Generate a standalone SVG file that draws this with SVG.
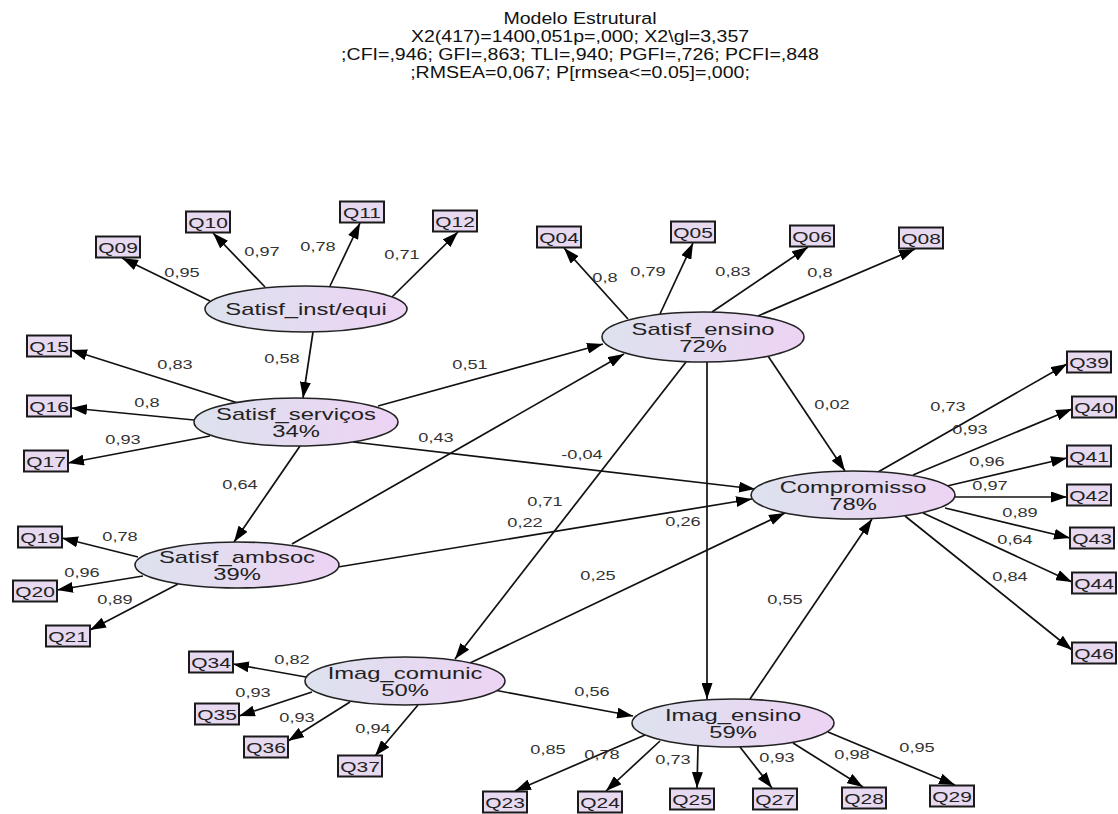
<svg xmlns="http://www.w3.org/2000/svg" width="1118" height="814" viewBox="0 0 1118 814">
<defs>
<linearGradient id="eg" x1="0" y1="0" x2="1" y2="0">
<stop offset="0" stop-color="#dde2ee"/>
<stop offset="1" stop-color="#edd3f4"/>
</linearGradient>
<marker id="ah" markerUnits="userSpaceOnUse" markerWidth="17" markerHeight="11" refX="16" refY="5.5" orient="auto">
<path d="M0,0 L16,5.5 L0,11 z" fill="#000"/>
</marker>
</defs>
<style>
text{font-family:"Liberation Sans",Arial,sans-serif;text-anchor:middle}
.title{font-size:17px;fill:#111}
.lab{font-size:13px;fill:#333}
.lv{font-size:17px;fill:#222}
.box rect{fill:#e7d9f0;stroke:#1a1a1a;stroke-width:2}
.box text{font-size:15px;fill:#222}
.lat ellipse{fill:url(#eg);stroke:#222;stroke-width:1.6}
#conn line{stroke:#111;stroke-width:1.7;marker-end:url(#ah)}
</style>
<rect width="1118" height="814" fill="#fff"/>
<g id="title" class="title">
<text transform="matrix(1.15 0 0 1 580 24)">Modelo Estrutural</text>
<text transform="matrix(1.15 0 0 1 580 42)">X2(417)=1400,051p=,000; X2\gl=3,357</text>
<text transform="matrix(1.15 0 0 1 580 60)">;CFI=,946; GFI=,863; TLI=,940; PGFI=,726; PCFI=,848</text>
<text transform="matrix(1.15 0 0 1 580 78)">;RMSEA=0,067; P[rmsea&lt;=0.05]=,000;</text>
</g>
<g id="conn">
<line x1="210" y1="301" x2="122" y2="258"/>
<line x1="265" y1="287" x2="213" y2="233"/>
<line x1="330" y1="286" x2="360" y2="223"/>
<line x1="392" y1="297" x2="458" y2="232"/>
<line x1="628" y1="319" x2="564" y2="248"/>
<line x1="660" y1="314" x2="693" y2="243"/>
<line x1="712" y1="312" x2="808" y2="247"/>
<line x1="758" y1="316" x2="915" y2="249"/>
<line x1="238" y1="403" x2="71" y2="350"/>
<line x1="194" y1="420" x2="71" y2="408"/>
<line x1="210" y1="436" x2="68" y2="463"/>
<line x1="138" y1="557" x2="62" y2="538"/>
<line x1="143" y1="576" x2="57" y2="590"/>
<line x1="178" y1="584" x2="90" y2="630"/>
<line x1="306" y1="677" x2="233" y2="664"/>
<line x1="312" y1="692" x2="239" y2="716"/>
<line x1="350" y1="702" x2="288" y2="741"/>
<line x1="418" y1="705" x2="375" y2="756"/>
<line x1="645" y1="735" x2="515" y2="791"/>
<line x1="660" y1="741" x2="606" y2="791"/>
<line x1="698" y1="746" x2="697" y2="788"/>
<line x1="740" y1="747" x2="772" y2="788"/>
<line x1="793" y1="743" x2="863" y2="787"/>
<line x1="828" y1="732" x2="955" y2="785"/>
<line x1="878" y1="472" x2="1067" y2="364"/>
<line x1="913" y1="475" x2="1072" y2="409"/>
<line x1="947" y1="486" x2="1067" y2="458"/>
<line x1="955" y1="497" x2="1067" y2="497"/>
<line x1="945" y1="508" x2="1070" y2="538"/>
<line x1="923" y1="513" x2="1072" y2="582"/>
<line x1="905" y1="516" x2="1072" y2="650"/>
<line x1="313" y1="332" x2="303" y2="398"/>
<line x1="378" y1="406" x2="603" y2="344"/>
<line x1="353" y1="442" x2="755" y2="489"/>
<line x1="300" y1="446" x2="234" y2="542"/>
<line x1="292" y1="544" x2="624" y2="354"/>
<line x1="338" y1="567" x2="752" y2="499"/>
<line x1="768" y1="356" x2="845" y2="471"/>
<line x1="686" y1="362" x2="455" y2="659"/>
<line x1="707" y1="362" x2="707" y2="699"/>
<line x1="494" y1="690" x2="633" y2="716"/>
<line x1="470" y1="663" x2="785" y2="513"/>
<line x1="750" y1="699" x2="872" y2="519"/>
</g>
<g id="labels" class="lab">
<text transform="matrix(1.4 0 0 1 182 277)">0,95</text>
<text transform="matrix(1.4 0 0 1 262 256)">0,97</text>
<text transform="matrix(1.4 0 0 1 318 251)">0,78</text>
<text transform="matrix(1.4 0 0 1 402 259)">0,71</text>
<text transform="matrix(1.4 0 0 1 605 282)">0,8</text>
<text transform="matrix(1.4 0 0 1 648 276)">0,79</text>
<text transform="matrix(1.4 0 0 1 733 276)">0,83</text>
<text transform="matrix(1.4 0 0 1 820 277)">0,8</text>
<text transform="matrix(1.4 0 0 1 175 369)">0,83</text>
<text transform="matrix(1.4 0 0 1 147 407)">0,8</text>
<text transform="matrix(1.4 0 0 1 123 444)">0,93</text>
<text transform="matrix(1.4 0 0 1 120 541)">0,78</text>
<text transform="matrix(1.4 0 0 1 82 577)">0,96</text>
<text transform="matrix(1.4 0 0 1 115 604)">0,89</text>
<text transform="matrix(1.4 0 0 1 292 664)">0,82</text>
<text transform="matrix(1.4 0 0 1 253 697)">0,93</text>
<text transform="matrix(1.4 0 0 1 297 722)">0,93</text>
<text transform="matrix(1.4 0 0 1 373 733)">0,94</text>
<text transform="matrix(1.4 0 0 1 548 754)">0,85</text>
<text transform="matrix(1.4 0 0 1 602 759)">0,78</text>
<text transform="matrix(1.4 0 0 1 673 764)">0,73</text>
<text transform="matrix(1.4 0 0 1 777 762)">0,93</text>
<text transform="matrix(1.4 0 0 1 852 759)">0,98</text>
<text transform="matrix(1.4 0 0 1 917 752)">0,95</text>
<text transform="matrix(1.4 0 0 1 948 411)">0,73</text>
<text transform="matrix(1.4 0 0 1 970 434)">0,93</text>
<text transform="matrix(1.4 0 0 1 987 466)">0,96</text>
<text transform="matrix(1.4 0 0 1 990 490)">0,97</text>
<text transform="matrix(1.4 0 0 1 1020 517)">0,89</text>
<text transform="matrix(1.4 0 0 1 1015 544)">0,64</text>
<text transform="matrix(1.4 0 0 1 1010 581)">0,84</text>
<text transform="matrix(1.4 0 0 1 282 363)">0,58</text>
<text transform="matrix(1.4 0 0 1 470 369)">0,51</text>
<text transform="matrix(1.4 0 0 1 582 459)">-0,04</text>
<text transform="matrix(1.4 0 0 1 240 489)">0,64</text>
<text transform="matrix(1.4 0 0 1 436 442)">0,43</text>
<text transform="matrix(1.4 0 0 1 525 527)">0,22</text>
<text transform="matrix(1.4 0 0 1 832 409)">0,02</text>
<text transform="matrix(1.4 0 0 1 545 506)">0,71</text>
<text transform="matrix(1.4 0 0 1 683 526)">0,26</text>
<text transform="matrix(1.4 0 0 1 592 696)">0,56</text>
<text transform="matrix(1.4 0 0 1 598 580)">0,25</text>
<text transform="matrix(1.4 0 0 1 785 604)">0,55</text>
</g>
<g id="n_inst" class="lat"><ellipse cx="306" cy="309" rx="101" ry="23"/><text class="lv" transform="matrix(1.4 0 0 1 306 315)">Satisf_inst/equi</text></g>
<g id="n_ensino" class="lat"><ellipse cx="703" cy="337" rx="101" ry="25"/><text class="lv" transform="matrix(1.4 0 0 1 703 335)">Satisf_ensino</text><text class="lv" transform="matrix(1.4 0 0 1 703 352)">72%</text></g>
<g id="n_serv" class="lat"><ellipse cx="296" cy="422" rx="102" ry="24"/><text class="lv" transform="matrix(1.4 0 0 1 296 420)">Satisf_serviços</text><text class="lv" transform="matrix(1.4 0 0 1 296 437)">34%</text></g>
<g id="n_comp" class="lat"><ellipse cx="853" cy="495" rx="102" ry="24"/><text class="lv" transform="matrix(1.4 0 0 1 853 493)">Compromisso</text><text class="lv" transform="matrix(1.4 0 0 1 853 510)">78%</text></g>
<g id="n_amb" class="lat"><ellipse cx="237" cy="565" rx="102" ry="23"/><text class="lv" transform="matrix(1.4 0 0 1 237 563)">Satisf_ambsoc</text><text class="lv" transform="matrix(1.4 0 0 1 237 580)">39%</text></g>
<g id="n_icom" class="lat"><ellipse cx="405" cy="681" rx="100" ry="24"/><text class="lv" transform="matrix(1.4 0 0 1 405 679)">Imag_comunic</text><text class="lv" transform="matrix(1.4 0 0 1 405 696)">50%</text></g>
<g id="n_iens" class="lat"><ellipse cx="733" cy="723" rx="101" ry="24"/><text class="lv" transform="matrix(1.4 0 0 1 733 721)">Imag_ensino</text><text class="lv" transform="matrix(1.4 0 0 1 733 738)">59%</text></g>
<g id="q09" class="box"><rect x="96" y="236.5" width="44" height="21"/><text transform="matrix(1.4 0 0 1 118 252.5)">Q09</text></g>
<g id="q10" class="box"><rect x="186" y="211.5" width="44" height="21"/><text transform="matrix(1.4 0 0 1 208 227.5)">Q10</text></g>
<g id="q11" class="box"><rect x="340" y="201.5" width="44" height="21"/><text transform="matrix(1.4 0 0 1 362 217.5)">Q11</text></g>
<g id="q12" class="box"><rect x="433" y="210.5" width="44" height="21"/><text transform="matrix(1.4 0 0 1 455 226.5)">Q12</text></g>
<g id="q04" class="box"><rect x="537" y="226.5" width="44" height="21"/><text transform="matrix(1.4 0 0 1 559 242.5)">Q04</text></g>
<g id="q05" class="box"><rect x="671" y="221.5" width="44" height="21"/><text transform="matrix(1.4 0 0 1 693 237.5)">Q05</text></g>
<g id="q06" class="box"><rect x="790" y="225.5" width="44" height="21"/><text transform="matrix(1.4 0 0 1 812 241.5)">Q06</text></g>
<g id="q08" class="box"><rect x="899" y="227.5" width="44" height="21"/><text transform="matrix(1.4 0 0 1 921 243.5)">Q08</text></g>
<g id="q15" class="box"><rect x="27" y="335.5" width="44" height="21"/><text transform="matrix(1.4 0 0 1 49 351.5)">Q15</text></g>
<g id="q16" class="box"><rect x="27" y="395.5" width="44" height="21"/><text transform="matrix(1.4 0 0 1 49 411.5)">Q16</text></g>
<g id="q17" class="box"><rect x="24" y="450.5" width="44" height="21"/><text transform="matrix(1.4 0 0 1 46 466.5)">Q17</text></g>
<g id="q19" class="box"><rect x="18" y="526.5" width="44" height="21"/><text transform="matrix(1.4 0 0 1 40 542.5)">Q19</text></g>
<g id="q20" class="box"><rect x="13" y="580.5" width="44" height="21"/><text transform="matrix(1.4 0 0 1 35 596.5)">Q20</text></g>
<g id="q21" class="box"><rect x="46" y="625.5" width="44" height="21"/><text transform="matrix(1.4 0 0 1 68 641.5)">Q21</text></g>
<g id="q34" class="box"><rect x="189" y="651.5" width="44" height="21"/><text transform="matrix(1.4 0 0 1 211 667.5)">Q34</text></g>
<g id="q35" class="box"><rect x="195" y="703.5" width="44" height="21"/><text transform="matrix(1.4 0 0 1 217 719.5)">Q35</text></g>
<g id="q36" class="box"><rect x="244" y="736.5" width="44" height="21"/><text transform="matrix(1.4 0 0 1 266 752.5)">Q36</text></g>
<g id="q37" class="box"><rect x="338" y="755.5" width="44" height="21"/><text transform="matrix(1.4 0 0 1 360 771.5)">Q37</text></g>
<g id="q23" class="box"><rect x="483" y="791.5" width="44" height="21"/><text transform="matrix(1.4 0 0 1 505 807.5)">Q23</text></g>
<g id="q24" class="box"><rect x="578" y="791.5" width="44" height="21"/><text transform="matrix(1.4 0 0 1 600 807.5)">Q24</text></g>
<g id="q25" class="box"><rect x="670" y="788.5" width="44" height="21"/><text transform="matrix(1.4 0 0 1 692 804.5)">Q25</text></g>
<g id="q27" class="box"><rect x="753" y="788.5" width="44" height="21"/><text transform="matrix(1.4 0 0 1 775 804.5)">Q27</text></g>
<g id="q28" class="box"><rect x="842" y="787.5" width="44" height="21"/><text transform="matrix(1.4 0 0 1 864 803.5)">Q28</text></g>
<g id="q29" class="box"><rect x="930" y="785.5" width="44" height="21"/><text transform="matrix(1.4 0 0 1 952 801.5)">Q29</text></g>
<g id="q39" class="box"><rect x="1067" y="351.5" width="44" height="21"/><text transform="matrix(1.4 0 0 1 1089 367.5)">Q39</text></g>
<g id="q40" class="box"><rect x="1072" y="396.5" width="44" height="21"/><text transform="matrix(1.4 0 0 1 1094 412.5)">Q40</text></g>
<g id="q41" class="box"><rect x="1067" y="445.5" width="44" height="21"/><text transform="matrix(1.4 0 0 1 1089 461.5)">Q41</text></g>
<g id="q42" class="box"><rect x="1067" y="484.5" width="44" height="21"/><text transform="matrix(1.4 0 0 1 1089 500.5)">Q42</text></g>
<g id="q43" class="box"><rect x="1070" y="527.5" width="44" height="21"/><text transform="matrix(1.4 0 0 1 1092 543.5)">Q43</text></g>
<g id="q44" class="box"><rect x="1072" y="572.5" width="44" height="21"/><text transform="matrix(1.4 0 0 1 1094 588.5)">Q44</text></g>
<g id="q46" class="box"><rect x="1072" y="642.5" width="44" height="21"/><text transform="matrix(1.4 0 0 1 1094 658.5)">Q46</text></g>
</svg>
